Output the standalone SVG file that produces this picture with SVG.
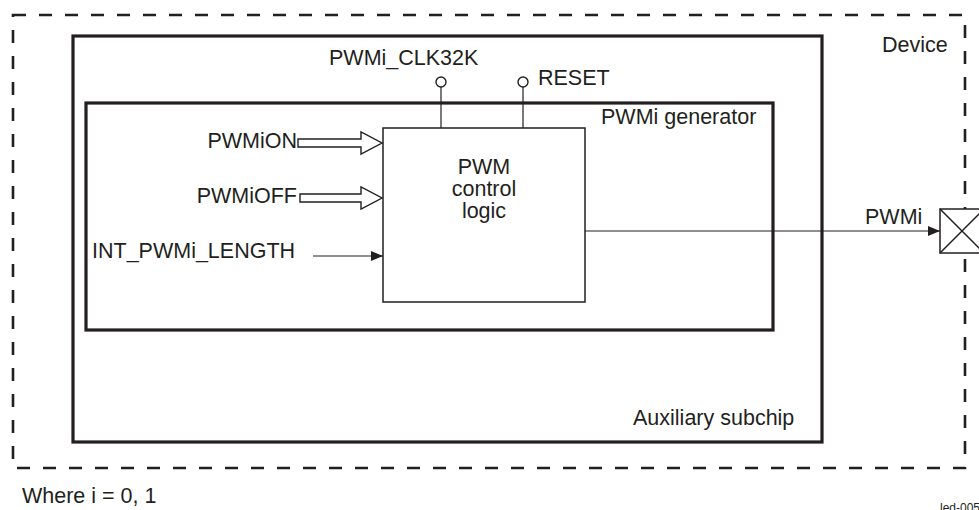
<svg xmlns="http://www.w3.org/2000/svg" width="979" height="510" viewBox="0 0 979 510">
<style>
text{font-family:"Liberation Sans",Arial,sans-serif;fill:#231f20;font-size:21.5px}
.thick{fill:none;stroke:#231f20;stroke-width:3.2}
.thin{fill:none;stroke:#231f20;stroke-width:1.5}
.wire{fill:none;stroke:#231f20;stroke-width:1.2}
.hollow{fill:#fff;stroke:#231f20;stroke-width:1.4}
</style>
<defs>
<marker id="ah" markerWidth="12" markerHeight="10" refX="12" refY="5" orient="auto" markerUnits="userSpaceOnUse">
<path d="M0,0 L12,5 L0,10 Z" fill="#231f20"/>
</marker>
</defs>
<rect width="979" height="510" fill="#fff"/>
<g id="device">
<rect x="13" y="15" width="952" height="453" fill="none" stroke="#231f20" stroke-width="2.6" stroke-dasharray="13 13"/>
<text x="882" y="52">Device</text>
</g>
<g id="aux">
<rect x="73" y="36" width="749" height="406" class="thick"/>
<text x="633" y="425">Auxiliary subchip</text>
</g>
<g id="gen">
<rect x="86" y="103" width="687" height="227" class="thick"/>
<text x="601" y="124">PWMi generator</text>
</g>
<g id="ctl">
<rect x="383" y="128" width="202" height="174" class="thin"/>
<text x="484" y="174" text-anchor="middle">PWM</text>
<text x="484" y="196" text-anchor="middle">control</text>
<text x="484" y="218" text-anchor="middle">logic</text>
</g>
<g id="pad">
<rect x="940" y="209" width="44" height="44" fill="#fff" stroke="#231f20" stroke-width="1.5"/>
<path d="M940,209 L984,253 M940,253 L984,209" class="thin"/>
</g>
<g id="labels">
<text x="329" y="65">PWMi_CLK32K</text>
<text x="538" y="85">RESET</text>
<text x="297" y="148" text-anchor="end">PWMiON</text>
<text x="297" y="203" text-anchor="end">PWMiOFF</text>
<text x="92" y="258">INT_PWMi_LENGTH</text>
<text x="865" y="224">PWMi</text>
<text x="22" y="503">Where i = 0, 1</text>
<text x="940" y="512" style="font-size:12px">led-005</text>
</g>
<g id="connectors">
<line x1="441" y1="87" x2="441" y2="128" class="wire"/>
<circle cx="441" cy="82" r="5" class="hollow"/>
<line x1="523" y1="87" x2="523" y2="128" class="wire"/>
<circle cx="523" cy="82" r="5" class="hollow"/>
<path d="M298,139 L361,139 L361,132 L382,143 L361,154 L361,147 L298,147 Z" class="hollow"/>
<path d="M300,194 L361,194 L361,187 L382,198 L361,209 L361,202 L300,202 Z" class="hollow"/>
<line x1="313" y1="256" x2="383" y2="256" class="wire" marker-end="url(#ah)"/>
<line x1="585" y1="231" x2="940" y2="231" class="wire" marker-end="url(#ah)"/>
</g>
</svg>
